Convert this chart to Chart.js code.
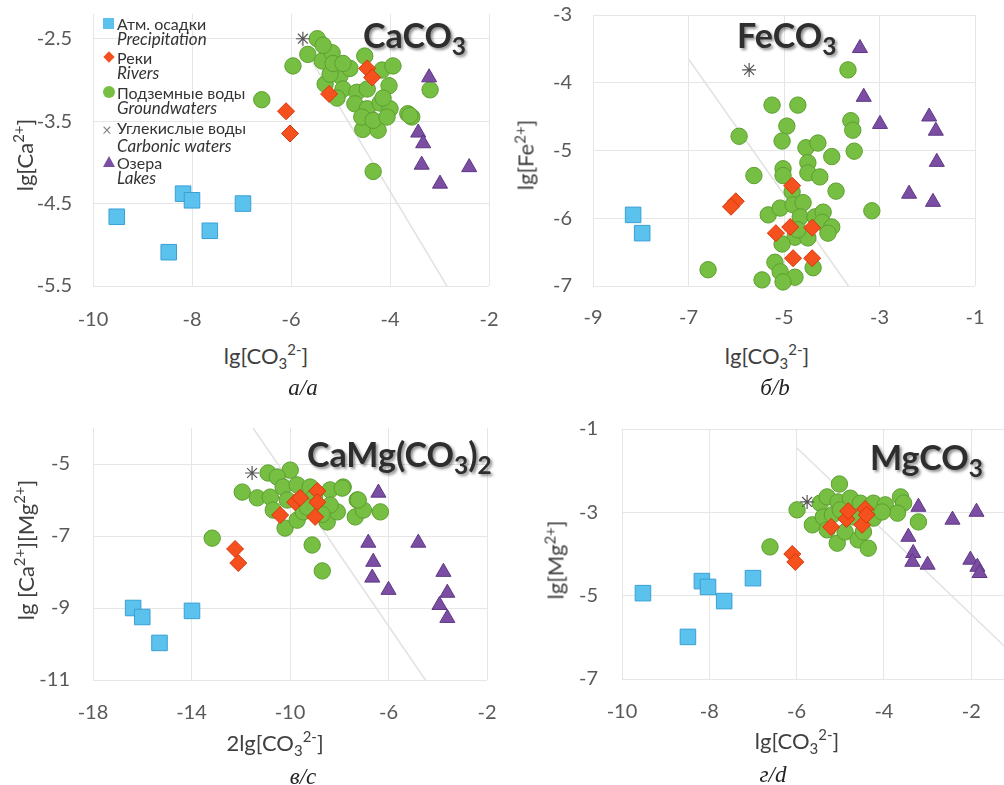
<!DOCTYPE html>
<html>
<head>
<meta charset="utf-8">
<script src="https://cdn.jsdelivr.net/npm/chart.js@4.4.0/dist/chart.umd.min.js"></script>
<style>
  body { margin: 0; width: 1004px; height: 785px; overflow: hidden; background: #fff; position: relative; font-family: Lato, "Open Sans", sans-serif; }
  .box { position: absolute; }
  .t { position: absolute; white-space: nowrap; color: #404040; font-size: 22px; transform: translate(-50%, -50%); }
  .rot { transform: translate(-50%, -50%) rotate(-90deg); }
  .t sup, .t sub { font-size: 68%; line-height: 0; }
  .ttl sub { font-size: 72%; line-height: 0; }
  .ttl { position: absolute; white-space: nowrap; font-weight: 700; font-size: 34px; color: #2e2e2e; text-shadow: 2px 2px 3px rgba(0,0,0,0.45); transform: translateY(-50%); }
  .cap { position: absolute; font-family: "Liberation Serif", "DejaVu Serif", serif; font-style: italic; font-size: 23px; color: #222; transform: translate(-50%, -50%); }
  .lg { position: absolute; font-size: 16px; color: #333; line-height: 15px; white-space: nowrap; }
  .lg i { display: block; font-size: 17px; }
  .mk { position: absolute; left: -14px; top: 2px; }
</style>
</head>
<body>
<div class="box" style="left:0;top:0;width:500px;height:330px"><canvas id="cA"></canvas></div>
<div class="box" style="left:500px;top:0;width:504px;height:330px"><canvas id="cB"></canvas></div>
<div class="box" style="left:0;top:400px;width:500px;height:330px"><canvas id="cC"></canvas></div>
<div class="box" style="left:500px;top:400px;width:504px;height:330px"><canvas id="cD"></canvas></div>

<div class="ttl" style="left:363px;top:34px">CaCO<sub>3</sub></div>
<div class="ttl" style="left:737px;top:34px">FeCO<sub>3</sub></div>
<div class="ttl" style="left:307px;top:453px">CaMg(CO<sub>3</sub>)<sub>2</sub></div>
<div class="ttl" style="left:870px;top:456px">MgCO<sub>3</sub></div>

<div class="t rot" style="left:24px;top:155px">lg[Ca<sup>2+</sup>]</div>
<div class="t" style="left:266px;top:355px">lg[CO<sub>3</sub><sup>2-</sup>]</div>
<div class="t rot" style="left:525px;top:155px">lg[Fe<sup>2+</sup>]</div>
<div class="t" style="left:767px;top:355px">lg[CO<sub>3</sub><sup>2-</sup>]</div>
<div class="t rot" style="left:25px;top:550px">lg [Ca<sup>2+</sup>][Mg<sup>2+</sup>]</div>
<div class="t" style="left:275px;top:742px">2lg[CO<sub>3</sub><sup>2-</sup>]</div>
<div class="t rot" style="left:555px;top:560px">lg[Mg<sup>2+</sup>]</div>
<div class="t" style="left:797px;top:740px">lg[CO<sub>3</sub><sup>2-</sup>]</div>

<div class="cap" style="left:303px;top:388px">а/a</div>
<div class="cap" style="left:775px;top:388px">б/b</div>
<div class="cap" style="left:303px;top:777px">в/c</div>
<div class="cap" style="left:773px;top:775px">г/d</div>

<div class="lg" style="left:117px;top:16px"><span class="mk" style="width:11px;height:11px;background:#5bc2ee"></span>Атм. осадки<i>Precipitation</i></div>
<div class="lg" style="left:117px;top:50px"><span class="mk" style="width:8px;height:8px;background:#f4511e;transform:rotate(45deg);left:-12px;top:3px"></span>Реки<i>Rivers</i></div>
<div class="lg" style="left:117px;top:85px"><span class="mk" style="width:12px;height:12px;border-radius:50%;background:#76bf42;top:1px"></span>Подземные воды<i>Groundwaters</i></div>
<div class="lg" style="left:117px;top:119px;line-height:18px"><span class="mk" style="color:#888;font-size:17px;line-height:15px;top:3px;left:-15px">×</span>Углекислые воды<i>Carbonic waters</i></div>
<div class="lg" style="left:117px;top:155px"><span class="mk" style="width:0;height:0;border-left:6px solid transparent;border-right:6px solid transparent;border-bottom:11px solid #7b4ea3;top:1px"></span>Озера<i>Lakes</i></div>

<script>
// ---- CaCO3 (a)
const caPrecip = [[-9.52,-4.66],[-8.18,-4.38],[-8.0,-4.46],[-6.97,-4.5],[-7.64,-4.83],[-8.47,-5.09]];
const caRivers = [[-6.10,-3.38],[-6.02,-3.65],[-4.46,-2.86],[-4.36,-2.97],[-5.23,-3.17]];
const caGround = [[-5.47,-2.5],[-5.66,-2.69],[-5.96,-2.83],[-6.59,-3.24],[-5.37,-2.77],[-5.17,-2.67],[-5.35,-2.58],
  [-4.51,-2.71],[-4.16,-2.88],[-3.94,-2.83],[-4.02,-3.07],[-3.19,-3.12],[-3.64,-3.41],[-3.56,-3.45],[-4.55,-3.60],
  [-4.24,-3.61],[-4.34,-4.11],[-5.31,-3.05],[-5.01,-2.95],[-4.81,-2.86],[-4.95,-3.11],[-4.67,-3.15],[-4.46,-3.11],
  [-5.07,-3.22],[-4.71,-3.29],[-4.46,-3.35],[-4.20,-3.28],[-4.00,-3.35],[-4.57,-3.45],[-4.34,-3.49],[-4.06,-3.45],
  [-5.21,-2.93],[-5.15,-2.80],[-4.95,-2.80],[-4.14,-3.22],[-3.60,-3.43]];
const caCarbonic = [[-5.76,-2.5]];
const caLakes = [[-3.21,-2.97],[-3.43,-3.64],[-3.33,-3.77],[-3.36,-4.03],[-2.99,-4.26],[-2.40,-4.06]];
const caLine = [[-5.85,-2.5],[-2.85,-5.5]];
const caXTicks = [-10,-8,-6,-4,-2];
const caYTicks = [-5.5,-4.5,-3.5,-2.5];

// ---- FeCO3 (b)
const fePrecip = [[-8.16,-5.95],[-7.97,-6.22]];
const feRivers = [[-6.01,-5.75],[-6.11,-5.83],[-4.83,-5.52],[-4.87,-6.13],[-5.17,-6.22],[-4.41,-6.14],[-4.81,-6.59],[-4.41,-6.59]];
const feGround = [[-5.25,-4.33],[-4.71,-4.33],[-4.94,-4.64],[-5.94,-4.79],[-5.04,-4.86],[-4.54,-4.96],[-4.29,-4.89],
  [-4.0,-5.09],[-3.60,-4.56],[-3.56,-4.70],[-3.53,-5.01],[-4.50,-5.18],[-4.50,-5.33],[-4.25,-5.39],[-5.02,-5.27],
  [-5.02,-5.37],[-5.63,-5.37],[-3.91,-5.60],[-3.16,-5.89],[-4.83,-5.61],[-5.33,-5.95],[-5.08,-5.85],[-4.81,-5.80],
  [-4.60,-5.77],[-4.66,-5.98],[-4.35,-5.98],[-4.18,-5.91],[-4.20,-6.06],[-4.0,-6.13],[-4.08,-6.22],[-4.77,-6.28],
  [-5.04,-6.38],[-4.50,-6.29],[-5.19,-6.65],[-5.08,-6.79],[-4.77,-6.87],[-5.02,-6.94],[-5.46,-6.91],[-4.39,-6.73],
  [-6.59,-6.76],[-4.71,-6.17],[-3.66,-3.81]];
const feCarbonic = [[-5.73,-3.81]];
const feLakes = [[-3.41,-3.49],[-3.33,-4.21],[-2.99,-4.61],[-1.96,-4.50],[-1.82,-4.71],[-1.80,-5.17],[-2.38,-5.64],[-1.88,-5.76]];
const feLine = [[-7.0,-3.65],[-3.65,-7.0]];
const feXTicks = [-9,-7,-5,-3,-1];
const feYTicks = [-7,-6,-5,-4,-3];

// ---- CaMg(CO3)2 (c)
const cmPrecip = [[-16.37,-9.0],[-16.0,-9.25],[-13.98,-9.08],[-15.3,-9.97]];
const cmRivers = [[-12.23,-7.36],[-12.1,-7.75],[-10.4,-6.42],[-9.79,-6.06],[-9.59,-5.94],[-8.89,-5.75],[-8.89,-6.06],[-8.98,-6.47]];
const cmGround = [[-9.99,-5.17],[-10.89,-5.25],[-10.52,-5.36],[-11.94,-5.78],[-11.33,-5.94],[-10.8,-5.92],[-10.28,-5.64],
  [-9.71,-5.58],[-9.18,-5.64],[-8.37,-5.72],[-7.84,-5.64],[-7.27,-6.0],[-7.35,-6.47],[-7.02,-6.28],[-10.68,-6.28],
  [-10.2,-6.78],[-9.71,-6.56],[-8.49,-6.61],[-8.08,-6.33],[-8.37,-6.14],[-9.46,-6.33],[-10.11,-6.0],[-13.16,-7.06],
  [-9.1,-7.25],[-8.69,-7.97],[-7.23,-6.0],[-6.33,-6.33],[-7.88,-5.67],[-9.0,-5.9],[-9.3,-6.2],[-8.7,-6.4]];
const cmCarbonic = [[-11.54,-5.25]];
const cmLakes = [[-6.41,-5.8],[-6.82,-7.19],[-6.62,-7.72],[-6.66,-8.16],[-6.0,-8.5],[-4.79,-7.19],[-3.77,-8.0],[-3.61,-8.58],[-3.93,-8.92],[-3.61,-9.28]];
const cmLine = [[-11.5,-4.0],[-4.5,-11.0]];
const cmXTicks = [-18,-14,-10,-6,-2];
const cmYTicks = [-11,-9,-7,-5];

// ---- MgCO3 (d)
const mgPrecip = [[-9.52,-4.94],[-8.17,-4.65],[-8.03,-4.79],[-7.0,-4.58],[-7.66,-5.13],[-8.49,-5.99]];
const mgRivers = [[-6.1,-4.0],[-6.03,-4.19],[-5.21,-3.35],[-4.86,-3.16],[-4.82,-2.97],[-4.5,-3.3],[-4.43,-2.92],[-4.4,-3.06]];
const mgGround = [[-5.02,-2.32],[-5.99,-2.94],[-5.64,-3.30],[-5.46,-2.78],[-5.30,-2.63],[-5.05,-2.75],[-4.77,-2.66],
  [-4.54,-2.78],[-4.24,-2.78],[-3.97,-2.82],[-3.62,-2.63],[-3.55,-2.78],[-3.69,-3.02],[-3.21,-3.23],[-5.39,-3.11],
  [-5.18,-3.06],[-5.30,-3.42],[-5.07,-3.74],[-4.89,-3.47],[-4.59,-3.66],[-4.36,-3.86],[-4.24,-3.14],[-4.04,-2.99],
  [-4.70,-3.11],[-5.0,-2.94],[-6.61,-3.83],[-4.47,-3.47]];
const mgCarbonic = [[-5.76,-2.75]];
const mgLakes = [[-3.21,-2.87],[-3.44,-3.59],[-3.33,-3.98],[-3.35,-4.19],[-3.0,-4.26],[-2.43,-3.18],[-1.88,-2.99],[-2.02,-4.14],[-1.86,-4.31],[-1.81,-4.46]];
const mgLine = [[-6.0,-1.45],[-1.25,-6.2]];
const mgXTicks = [-10,-8,-6,-4,-2];
const mgYTicks = [-7,-5,-3,-1];

Chart.defaults.font.family = 'Lato, "Open Sans", sans-serif';

const pts = arr => arr.map(p => ({ x: p[0], y: p[1] }));

function sets(precip, rivers, ground, carbonic, lakes, line) {
  return [
    { data: pts(rivers), pointStyle: 'rectRot', pointRadius: 8.5, backgroundColor: '#f4511e', borderColor: '#d8360c', borderWidth: 1, order: 1 },
    { data: pts(carbonic), pointStyle: 'star', pointRadius: 7, backgroundColor: '#ddd', borderColor: '#555', borderWidth: 1.2, order: 2 },
    { data: pts(precip), pointStyle: 'rect', pointRadius: 11, backgroundColor: '#5bc2ee', borderColor: '#3a9fd5', borderWidth: 1, order: 3 },
    { data: pts(lakes), pointStyle: 'triangle', pointRadius: 8.7, backgroundColor: '#7b4ea3', borderColor: '#5e3785', borderWidth: 1, order: 4 },
    { data: pts(ground), pointStyle: 'circle', pointRadius: 8.2, backgroundColor: '#76bf42', borderColor: '#5d9f31', borderWidth: 1, order: 5 },
    { data: pts(line), showLine: true, pointRadius: 0, borderColor: '#e2e2e2', borderWidth: 1.5, order: 9 }
  ];
}

function makeChart(id, datasets, xr, yr, xTicks, yTicks, g) {
  const tickFont = { size: 20 };
  new Chart(document.getElementById(id), {
    type: 'scatter',
    data: { datasets: datasets.map(d => Object.assign({ clip: false }, d)) },
    options: {
      responsive: true,
      maintainAspectRatio: false,
      animation: false,
      events: [],
      layout: { autoPadding: false, padding: { left: 0, right: g.right, top: g.top, bottom: 0 } },
      plugins: { legend: { display: false }, tooltip: { enabled: false } },
      scales: {
        x: {
          type: 'linear', min: xr[0], max: xr[1],
          border: { display: false },
          grid: { color: '#e6e6e6', lineWidth: 1, drawTicks: false },
          ticks: { font: tickFont, color: '#595959', padding: g.xPad, maxRotation: 0, callback: v => String(v) },
          afterBuildTicks: s => { s.ticks = xTicks.map(v => ({ value: v })); },
          afterFit: s => { s.height = g.xH; s.paddingLeft = 0; s.paddingRight = 0; }
        },
        y: {
          type: 'linear', min: yr[0], max: yr[1],
          border: { display: false },
          grid: { color: '#e6e6e6', lineWidth: 1, drawTicks: false },
          ticks: { font: tickFont, color: '#595959', padding: g.yPad, callback: v => String(v) },
          afterBuildTicks: s => { s.ticks = yTicks.map(v => ({ value: v })); },
          afterFit: s => { s.width = g.yW; s.paddingTop = 0; s.paddingBottom = 0; }
        }
      }
    }
  });
}

makeChart('cA', sets(caPrecip, caRivers, caGround, caCarbonic, caLakes, caLine),
  [-10, -2], [-5.5, -2.2], caXTicks, caYTicks, { yW: 93, xH: 44, top: 14, right: 11, xPad: 22, yPad: 21 });
makeChart('cB', sets(fePrecip, feRivers, feGround, feCarbonic, feLakes, feLine),
  [-9, -1], [-7, -3], feXTicks, feYTicks, { yW: 93, xH: 44, top: 15, right: 29, xPad: 20, yPad: 21 });
makeChart('cC', sets(cmPrecip, cmRivers, cmGround, cmCarbonic, cmLakes, cmLine),
  [-18, -2], [-11, -4], cmXTicks, cmYTicks, { yW: 93, xH: 50, top: 28, right: 13, xPad: 21, yPad: 23 });
makeChart('cD', sets(mgPrecip, mgRivers, mgGround, mgCarbonic, mgLakes, mgLine),
  [-10, -1.25], [-7, -1], mgXTicks, mgYTicks, { yW: 122, xH: 51, top: 29, right: 0, xPad: 21, yPad: 24 });
</script>
</body>
</html>
